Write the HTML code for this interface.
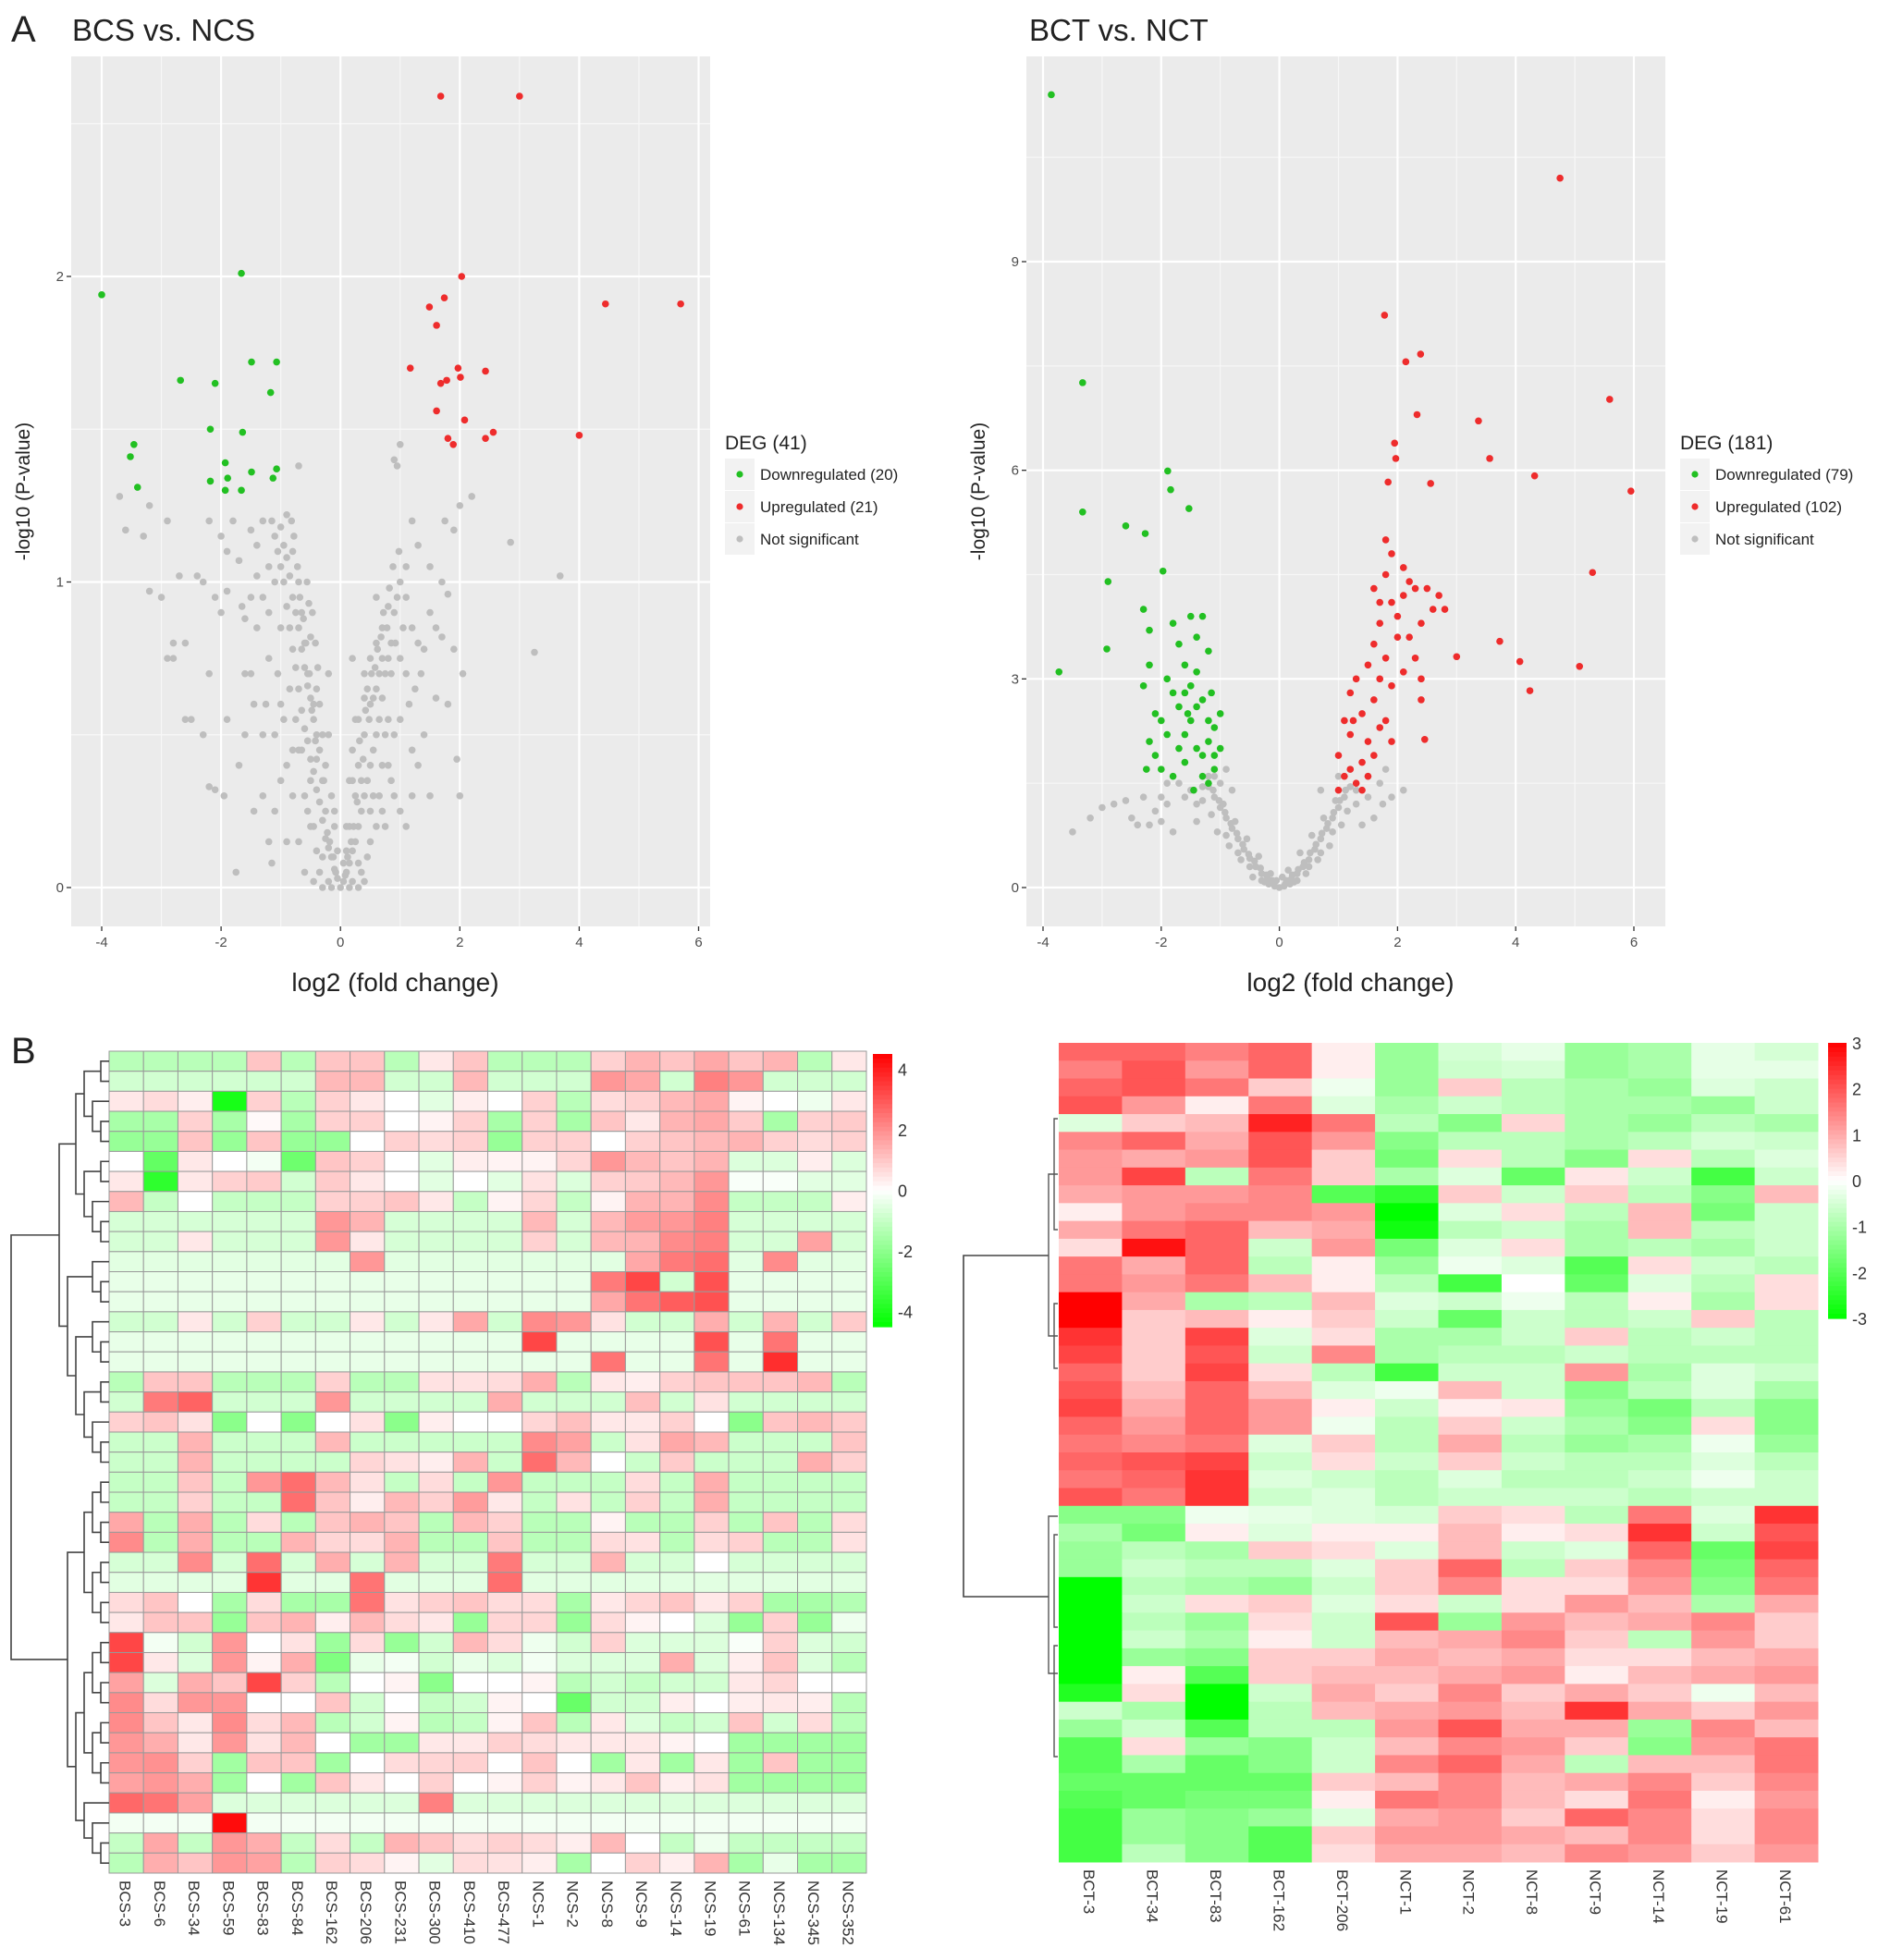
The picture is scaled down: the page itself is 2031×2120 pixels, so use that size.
<!DOCTYPE html>
<html><head><meta charset="utf-8">
<style>
html,body{margin:0;padding:0;background:#fff;}
svg{display:block;font-family:"Liberation Sans",sans-serif;}
</style></head>
<body>
<svg id="fig" width="2031" height="2120" viewBox="0 0 2031 2120" xmlns="http://www.w3.org/2000/svg">
<rect x="0" y="0" width="2031" height="2120" fill="#fff"/>
<text x="12" y="45" font-size="40" fill="#222">A</text>
<text x="78" y="44" font-size="33" fill="#222">BCS vs. NCS</text>
<text x="1113" y="44" font-size="33" fill="#222">BCT vs. NCT</text>
<text x="12" y="1150" font-size="40" fill="#222">B</text>
<g id="g1"></g>
<g id="g2"></g>
<g id="h1"></g>
<g id="h2"></g>
</svg>
<script>
// ---------- Volcano 1 data ----------
const v1Down = [[-4.0,1.94],[-1.66,2.01],[-2.68,1.66],[-2.1,1.65],[-1.49,1.72],[-1.07,1.72],[-1.17,1.62],[-2.18,1.50],[-1.64,1.49],[-3.46,1.45],[-3.52,1.41],[-3.4,1.31],[-1.93,1.39],[-1.89,1.34],[-2.18,1.33],[-1.93,1.30],[-1.49,1.36],[-1.07,1.37],[-1.13,1.34],[-1.66,1.30]];
const v1Up = [[1.68,2.59],[3.0,2.59],[2.03,2.0],[1.74,1.93],[1.49,1.9],[1.61,1.84],[1.17,1.70],[1.97,1.70],[2.43,1.69],[2.01,1.67],[1.78,1.66],[1.68,1.65],[1.61,1.56],[2.08,1.53],[1.80,1.47],[1.89,1.45],[2.43,1.47],[2.56,1.49],[4.0,1.48],[4.44,1.91],[5.70,1.91]];
const v1NS = [[0,0],[0.05,0.02],[-0.05,0.03],[0.1,0.05],[-0.1,0.06],[0.15,0.08],[-0.15,0.1],[0.2,0.12],[-0.2,0.13],[0.25,0.15],[-0.25,0.16],[0.3,0.2],[-0.3,0.22],[0.35,0.25],[-0.35,0.28],[0.4,0.3],[-0.4,0.32],[0.45,0.35],[-0.45,0.38],[0.5,0.4],[-0.5,0.42],[0.55,0.45],[-0.55,0.48],[0.6,0.5],[-0.6,0.52],[0.65,0.55],[-0.65,0.58],[0.7,0.62],[-0.7,0.65],[0.75,0.7],[-0.75,0.72],[0.8,0.75],[-0.8,0.78],[0.85,0.8],[-0.85,0.85],[0.9,0.9],[-0.9,0.92],[0.95,0.95],[-0.95,1.0],[-1.0,1.05],[-1.05,1.1],[-1.1,1.15],[-1.15,1.2],[0.3,0.08],[-0.3,0.1],[0.5,0.15],[-0.5,0.2],[0.7,0.25],[-0.6,0.3],[0.8,0.4],[-0.8,0.45],[1.0,0.55],[-1.0,0.6],[1.1,0.7],[-1.2,0.75],[1.3,0.8],[-1.4,0.85],[1.5,0.9],[-1.5,0.95],[1.6,0.62],[-1.6,0.7],[1.2,0.45],[-1.3,0.5],[0.9,0.3],[-1.0,0.35],[1.4,0.5],[-1.7,0.4],[1.8,0.6],[-1.9,0.55],[2.0,0.3],[-2.0,0.9],[-2.2,0.7],[-2.3,0.5],[-2.5,0.55],[-2.6,0.55],[-2.8,0.75],[-2.8,0.8],[-3.0,0.95],[-3.2,0.97],[-3.6,1.17],[-3.7,1.28],[-3.3,1.15],[-3.2,1.25],[-2.9,1.2],[-2.4,1.02],[-2.7,1.02],[-2.2,1.2],[-1.9,1.1],[-1.9,0.97],[-1.7,1.07],[-1.5,1.17],[-1.3,1.2],[-1.2,1.05],[-1.4,1.02],[-1.6,0.88],[-0.7,1.0],[-0.6,0.8],[-0.4,0.65],[0.4,0.62],[0.6,0.8],[0.8,0.92],[1.0,1.0],[1.1,1.05],[1.2,1.2],[1.3,1.12],[1.5,1.05],[1.7,1.0],[1.75,1.2],[1.9,1.17],[2.0,1.25],[2.2,1.28],[1.8,0.96],[1.7,0.82],[1.9,0.78],[2.05,0.7],[1.95,0.42],[2.85,1.13],[3.68,1.02],[3.25,0.77],[1.2,0.3],[1.0,0.25],[-1.1,0.25],[-0.9,0.15],[0.9,1.4],[1.0,1.45],[0.95,1.38],[-0.7,1.38],[-0.6,0.05],[-1.75,0.05],[-1.15,0.08],[0.2,0.02],[-0.2,0.02],[0.35,0.05],[-0.35,0.05],[0.1,0.2],[-0.1,0.25],[0.15,0.35],[-0.15,0.3],[0.2,0.45],[-0.25,0.4],[0.3,0.55],[-0.3,0.5],[0.4,0.7],[-0.45,0.6],[0.5,0.75],[-0.55,0.7],[0.6,0.95],[-0.65,0.9],[-0.8,1.1],[-0.9,1.22],[-1.0,1.18],[0.7,0.85],[0.75,0.5],[-0.7,0.45],[0.55,0.3],[-0.5,0.35],[0.25,0.3],[-0.2,0.5],
[-0.3,0.35],[-0.35,0.45],[-0.4,0.5],[-0.45,0.55],[-0.5,0.62],[-0.55,0.66],[-0.6,0.72],[-0.65,0.78],[-0.7,0.85],[-0.75,0.9],[-0.8,0.95],[-0.85,1.02],[-0.9,1.08],[-0.95,1.12],[-0.4,0.42],[-0.42,0.48],[-0.48,0.58],[-0.52,0.7],[-0.58,0.8],[-0.62,0.88],[-0.68,0.95],[-0.72,1.05],[-0.78,1.15],[-0.82,1.2],[-0.35,0.6],[-0.38,0.72],[-0.42,0.8],[-0.47,0.9],[-0.5,0.82],[-0.53,0.93],[-0.56,1.0],[-0.25,0.25],[-0.28,0.35],[-0.22,0.18],[-0.18,0.15],[-0.12,0.1],[-0.08,0.05],[0.08,0.04],[0.12,0.1],[0.18,0.15],[0.22,0.2],[0.28,0.28],[0.3,0.4],[0.32,0.48],[0.35,0.35],[0.38,0.42],[0.4,0.5],[0.42,0.58],[0.45,0.65],[0.48,0.55],[0.5,0.6],[0.52,0.7],[0.55,0.62],[0.58,0.72],[0.6,0.65],[0.62,0.78],[0.65,0.7],[0.68,0.82],[0.7,0.75],[0.72,0.9],[0.78,0.85],[0.82,0.98],[0.85,0.7],[0.88,1.05],[0.92,0.8],[0.98,1.1],[1.05,0.85],[1.1,0.95],[1.15,0.6],[1.25,0.65],[1.35,0.7],[0.65,0.3],[0.6,0.2],[0.5,0.25],[0.45,0.1],[0.7,0.4],[0.8,0.55],[0.9,0.5],[0.85,0.35],[0.75,0.2],[-0.7,0.15],[-0.8,0.3],[-0.9,0.4],[-0.95,0.55],[-1.05,0.7],[-1.1,0.5],[-1.2,0.9],[-1.3,0.95],[-1.25,0.6],[-1.45,0.6],[-1.5,0.7],[-1.6,0.5],[-1.8,1.2],[-2.0,1.15],[-1.4,1.12],[-1.1,1.0],[-1.0,0.85],[-0.85,0.65],[-0.75,0.55],[-0.65,0.45],[-0.55,0.25],[-0.45,0.2],[-0.4,0.12],[0.15,0.0],[-0.15,0.0],[0.3,0.0],[-0.3,0.0],[0.4,0.02],[-0.45,0.02],[0.25,0.55],[0.2,0.35],[0.15,0.2],[0.1,0.12],[0.05,0.08],[-0.05,0.12],[-0.1,0.2],[1.0,0.75],[1.2,0.85],[1.4,0.78],[1.6,0.85],[1.3,0.4],[1.5,0.3],[1.1,0.2],[-1.3,0.3],[-1.45,0.25],[-1.2,0.15],[-1.65,0.92],[-2.3,1.0],[-2.1,0.95],[-1.95,0.3],[-2.1,0.32],[-2.2,0.33],[-2.6,0.8],[-2.9,0.75],[-0.2,0.7],[0.2,0.75]];
const v1XTicks = [-4,-2,0,2,4,6];
const v1YTicks = [0,1,2];
const v1Legend = ["Downregulated (20)","Upregulated (21)","Not significant"];

// ---------- Volcano 2 data ----------
const v2Down = [[-3.86,11.4],[-3.33,7.26],[-3.33,5.4],[-2.6,5.2],[-2.27,5.09],[-1.89,5.99],[-1.84,5.72],[-1.53,5.45],[-1.97,4.55],[-2.9,4.4],[-3.73,3.1],[-2.92,3.43],[-2.3,4.0],[-2.2,3.7],[-2.2,3.2],[-2.3,2.9],[-2.1,2.5],[-2.2,2.1],[-2.1,1.9],[-2.0,2.4],[-1.9,3.0],[-1.8,3.8],[-1.8,2.8],[-1.7,3.5],[-1.7,2.6],[-1.6,3.2],[-1.6,2.2],[-1.6,1.8],[-1.5,3.9],[-1.5,2.9],[-1.5,2.4],[-1.4,3.6],[-1.4,3.1],[-1.4,2.0],[-1.3,3.9],[-1.3,2.7],[-1.3,1.6],[-1.2,3.4],[-1.2,2.4],[-1.2,2.1],[-1.2,1.5],[-1.1,2.3],[-1.1,1.9],[-1.1,1.7],[-1.0,2.0],[-1.0,2.5],[-1.9,2.2],[-2.0,1.7],[-1.7,2.0],[-1.6,2.8],[-1.4,2.6],[-1.3,1.9],[-1.8,1.6],[-2.25,1.7],[-1.45,1.4],[-1.15,2.8],[-1.55,2.5]];
const v2Up = [[4.75,10.2],[1.78,8.23],[2.39,7.67],[2.14,7.56],[5.59,7.02],[3.37,6.71],[2.33,6.8],[5.95,5.70],[3.56,6.17],[4.32,5.92],[1.95,6.39],[1.97,6.17],[1.84,5.83],[2.56,5.81],[5.3,4.53],[3.73,3.54],[4.07,3.25],[3.0,3.32],[5.08,3.18],[4.24,2.83],[2.46,2.13],[1.0,1.4],[1.1,1.6],[1.0,1.9],[1.2,2.2],[1.1,2.4],[1.2,2.8],[1.3,3.0],[1.3,1.5],[1.4,1.8],[1.4,2.5],[1.5,3.2],[1.5,1.6],[1.5,2.1],[1.6,2.7],[1.6,3.5],[1.6,1.9],[1.7,2.3],[1.7,3.0],[1.7,3.8],[1.7,4.1],[1.8,2.4],[1.8,3.3],[1.8,4.5],[1.8,5.0],[1.9,2.9],[1.9,4.1],[1.9,4.8],[2.0,3.6],[2.0,3.9],[2.1,4.2],[2.1,3.1],[2.2,4.4],[2.2,3.6],[2.3,4.3],[2.4,3.8],[2.4,3.0],[2.4,2.7],[2.5,4.3],[2.6,4.0],[2.7,4.2],[2.8,4.0],[1.9,2.1],[1.4,1.4],[1.2,1.7],[2.1,4.6],[2.3,3.3],[1.6,4.3],[1.25,2.4]];
const v2NS = [[0,0],[0.1,0.05],[-0.1,0.05],[0.2,0.12],[-0.2,0.12],[0.3,0.2],[-0.3,0.2],[0.4,0.3],[-0.4,0.3],[0.5,0.4],[-0.5,0.42],[0.6,0.55],[-0.6,0.55],[0.7,0.7],[-0.7,0.7],[0.8,0.85],[-0.8,0.85],[0.9,1.0],[-0.9,1.0],[1.0,1.15],[-1.0,1.15],[1.1,1.3],[-1.1,1.3],[1.2,1.45],[-1.2,1.45],[0.15,0.25],[-0.15,0.2],[0.35,0.5],[-0.35,0.45],[0.55,0.75],[-0.55,0.7],[0.75,1.0],[-0.75,0.95],[0.95,1.25],[-0.95,1.2],[1.15,1.1],[-1.15,1.05],[1.3,1.2],[-1.3,1.25],[1.5,1.6],[-1.5,1.4],[1.7,1.5],[-1.7,1.5],[1.9,1.3],[-1.9,1.2],[-2.1,1.1],[-2.3,1.3],[-2.5,1.0],[-2.8,1.2],[-3.2,1.0],[-3.5,0.8],[-2.2,0.9],[-1.8,0.8],[2.1,1.4],[1.6,1.0],[1.4,0.9],[-1.4,0.95],[0.45,0.2],[-0.45,0.15],[0.25,0.08],[-0.25,0.08],[0.65,0.4],[-0.65,0.4],[0.85,0.6],[-0.85,0.6],[1.05,0.9],[-1.05,0.8],[0.05,0.15],[-0.05,0.1],[-0.8,1.4],[-1.1,1.6],[1.2,1.7],[1.0,1.6],[-0.9,1.7],[0.7,1.4],
[0.12,0.1],[-0.12,0.1],[0.22,0.18],[-0.22,0.18],[0.32,0.26],[-0.32,0.28],[0.42,0.36],[-0.42,0.38],[0.52,0.5],[-0.52,0.48],[0.62,0.62],[-0.62,0.62],[0.72,0.78],[-0.72,0.78],[0.82,0.92],[-0.82,0.92],[0.92,1.08],[-0.92,1.08],[1.02,1.25],[-1.02,1.25],[1.12,1.4],[-1.12,1.4],[0.3,0.1],[-0.3,0.1],[0.5,0.3],[-0.5,0.3],[0.7,0.5],[-0.7,0.5],[0.9,0.8],[-0.9,0.75],[1.3,1.4],[-1.3,1.45],[-1.6,1.3],[-1.9,1.5],[-2.0,1.3],[-1.4,1.2],[1.5,1.3],[1.8,1.7],[-1.2,1.6],[-1.0,1.5],[0.08,0.02],[-0.08,0.02],[0.18,0.05],[-0.18,0.05],[-2.6,1.25],[-3.0,1.15],[-2.4,0.9],[-2.0,0.95],[1.75,1.2]];
const v2XTicks = [-4,-2,0,2,4,6];
const v2YTicks = [0,3,6,9];
const v2Legend = ["Downregulated (79)","Upregulated (102)","Not significant"];

// ---------- Heatmap 1 data ----------
const hm1Cols = ["BCS-3","BCS-6","BCS-34","BCS-59","BCS-83","BCS-84","BCS-162","BCS-206","BCS-231","BCS-300","BCS-410","BCS-477","NCS-1","NCS-2","NCS-8","NCS-9","NCS-14","NCS-19","NCS-61","NCS-134","NCS-345","NCS-352"];
const hm1Vals = [
[-1.2,-1.2,-1.2,-1.2,1,-1.2,1,1,-1.2,0.4,1,-1.2,-1.2,-1.2,0.8,1.3,1,1.5,1,1.3,-1.2,0.4],
[-0.8,-0.8,-0.8,-0.8,-0.8,-0.8,1.2,1.2,-0.8,-0.8,1.2,-0.8,-0.8,-0.8,1.8,1.5,-0.8,2.2,1.8,-0.8,-0.8,-0.8],
[0.4,0.6,0.3,-4,0.8,-1.2,0.8,0.4,0,-0.5,0.3,0,0.8,-1.2,0.6,0.8,1.2,1.5,0.2,0,-0.3,0.4],
[-1.5,-1.5,0.8,-1.5,0.1,-1.5,0.8,0.8,0,0.2,0.8,-1.5,0.8,-1.5,1.0,0.4,1.3,1.5,0.9,-1.5,0.8,0.9],
[-1.8,-1.8,1.0,-1.8,1.0,-1.8,-1.8,0,0.8,0.6,0.8,-1.8,0.8,0.8,0,0.8,1.0,1.2,1.3,0.8,0.6,0.8],
[0,-2.7,0.4,0,-0.2,-2.5,1.0,0.8,0,-0.5,0.3,0.2,0.2,0.7,1.8,1.2,1.0,1.3,-0.6,-0.6,0.3,-0.6],
[0.4,-3.6,0.4,0.8,0.9,-0.8,0.9,0.4,0,-0.5,0,-0.5,0.5,-0.6,0.8,0.9,1.2,1.8,-0.1,-0.1,-0.5,-0.5],
[1.2,-1,0,-1,-1,-1,0.8,0.8,1.0,0.4,-1,0.2,0.7,-1,0.2,1.3,1.3,2,-1,-1,-1,0.3],
[-0.7,-0.7,-0.7,-0.7,-0.7,-0.7,1.8,1.3,-0.7,-0.7,-0.7,-0.7,1.2,-0.7,1.2,1.7,1.8,2.2,-0.7,-0.7,-0.7,-0.7],
[-0.7,-0.7,0.4,-0.7,-0.7,-0.7,1.8,0.4,-0.7,-0.7,-0.7,-0.7,0.8,-0.7,1.2,1.3,2.0,2.2,-0.7,-0.7,1.6,-0.7],
[-0.5,-0.5,-0.5,-0.5,-0.5,-0.5,-0.5,1.8,-0.5,-0.5,-0.5,-0.5,-0.5,-0.5,-0.5,1.5,2.3,2.5,-0.5,2.0,-0.5,-0.5],
[-0.4,-0.4,-0.4,-0.4,-0.4,-0.4,-0.4,-0.4,-0.4,-0.4,-0.4,-0.4,-0.4,-0.4,2.3,3.2,-0.8,3.0,-0.4,-0.4,-0.4,-0.4],
[-0.4,-0.4,-0.4,-0.4,-0.4,-0.4,-0.4,-0.4,-0.4,-0.4,-0.4,-0.4,-0.4,-0.4,1.5,2.4,2.8,3.0,-0.4,-0.4,-0.4,-0.4],
[-0.8,-0.8,0.4,-0.8,0.8,-0.8,-0.8,0.4,-0.8,0.4,1.5,-0.8,2.0,1.8,0.5,-0.8,-0.8,1.4,-0.8,1.3,-0.8,0.9],
[-0.4,-0.4,-0.4,-0.4,-0.4,-0.4,-0.4,-0.4,-0.4,-0.4,-0.4,-0.4,3.2,-0.4,-0.4,-0.4,-0.4,3.0,-0.4,2.4,-0.4,-0.4],
[-0.4,-0.4,-0.4,-0.4,-0.4,-0.4,-0.4,-0.4,-0.4,-0.4,-0.4,-0.4,-0.4,-0.4,2.4,-0.4,-0.4,2.4,-0.4,3.6,-0.4,-0.4],
[-1.2,1.0,1.0,-1.2,-1.2,-1.2,0.8,-1.2,-1.2,0.5,0.5,0.6,1.4,-1.2,0.4,0.3,0.8,1.0,1.0,1.0,1.2,-1.2],
[-0.8,2.3,2.7,-0.8,-0.8,-0.8,1.8,-0.8,-0.8,-0.8,-0.8,1.4,-0.8,-0.8,-0.8,1.1,-0.8,0.5,-0.8,-0.8,-0.8,-0.8],
[0.8,1.0,0.5,-2,0,-2,0,0.5,-2,0.3,0,0,0.7,1.1,0.4,0.4,0.8,0,-2,1.0,1.2,0.9],
[-0.9,-0.9,1.3,-0.9,-0.9,-0.9,1.2,-0.9,-0.9,-0.9,-0.9,-0.9,2.0,1.6,-0.9,0.5,1.5,1.2,-0.9,-0.9,-0.9,1.0],
[-0.9,-0.9,1.3,-0.9,-0.9,-0.9,-0.9,0.7,0.5,0.3,1.3,-0.9,2.5,1.2,0,-0.9,0.9,-0.9,-0.9,-0.9,1.4,0.8],
[-1,-1,1.0,-1,1.8,2.5,1.2,0.5,-1,0.6,-1,1.8,-1,-1,-1,0.6,-1,1.4,-1,-1,-1,-1],
[-1,-1,0.8,-1,-1,2.5,1.0,0.3,1.2,0.8,1.7,0.4,-1,0.5,-1,0.8,-1,1.4,-1,-1,-1,-1],
[1.5,-1.2,1.4,-1.2,0.6,-1.2,1.0,1.3,1.0,-1.2,1.2,0.8,-1.2,-1.2,0.2,-1.2,-1.2,0.8,-1.2,1.0,-1.2,0.6],
[2,-1.2,1.4,-1.2,-1.2,1.3,0.7,0.6,1.3,-1.2,-1.2,1.0,-1.2,-1.2,0.6,0.5,-1.2,0.6,0.8,-1.2,-1.2,0.5],
[-0.7,-0.7,2.0,-0.7,2.5,-0.7,1.4,-0.7,1.3,-0.7,-0.7,2.3,-0.7,-0.7,1.3,-0.7,-0.7,0,-0.7,-0.7,-0.7,-0.7],
[-0.5,-0.5,-0.5,-0.5,3.5,-0.5,-0.5,2.4,-0.5,-0.5,-0.5,2.5,-0.5,-0.5,-0.5,-0.5,-0.5,-0.5,-0.5,-0.5,-0.5,-0.5],
[0.6,1.0,0,-1.5,0.6,-1.5,-1.5,2.4,0.5,0.8,1.0,0.6,0.6,-1.5,0.4,0.7,1.0,0.4,0.8,-1.5,-1.5,-1.3],
[0.4,1.0,1.0,-1.8,1.0,1.3,0.3,1.2,0.6,0.4,-1.8,0.7,0.7,-1.8,0.6,0.2,0,-0.6,-1.8,0.8,-1.8,-0.3],
[3.2,-0.2,-0.8,1.8,0,0.5,-1.7,0.6,-1.8,-0.8,1.2,0.6,-0.3,-0.8,0.8,-0.6,-0.6,-0.6,-0.1,0.8,-0.6,-0.8],
[3.2,0.4,-0.6,1.8,0.2,1.4,-2.2,-0.4,-0.2,-0.8,-0.4,-0.6,-0.2,-0.6,-0.6,-0.6,1.4,-0.6,0.3,1.0,-0.6,-1.2],
[1.6,-0.6,1.4,1.0,3.2,0.8,-1.2,0,0.2,-2,0,0,0.2,-1.2,-0.8,-1.0,-0.8,-0.8,0.4,0.7,0,0],
[2.0,0.6,1.8,1.8,0,0,1.0,-0.8,0,-1.0,-0.8,0.2,0,-2.6,-0.8,-0.8,0.3,0,0.3,0.4,0.3,-1.2],
[2.0,1.0,0.4,2.0,0.6,1.2,-1.2,-0.8,0.2,-1.2,-1.0,0.2,1.0,-1.2,0.4,-0.6,-1.0,-0.8,1.0,-0.8,0.6,-1.2],
[1.8,1.4,0.4,1.8,0.5,1.2,0,-1.6,-1.6,0.4,0.4,0.8,0.6,0.4,0.4,0.4,0.2,0,-1.6,-1.6,-1.6,-1.6],
[1.8,1.9,0.8,-1.6,1.0,1.0,-1.6,0,0.6,0.7,0.8,0,1.0,0,-1.6,0.4,-1.6,0.4,-1.6,1.0,-1.6,-1.6],
[1.6,1.8,1.4,-1.6,0,-1.6,1.0,0.4,0,0.8,0,0.2,0.8,0.2,0.4,1.0,0.3,0.5,-1.6,-1.6,-1.6,-1.6],
[2.6,2.4,1.6,-0.6,-0.6,-0.6,-0.6,-0.6,-0.6,2.2,-0.6,-0.6,-0.6,-0.6,-0.6,-0.6,-0.6,-0.6,-0.6,-0.6,-0.6,-0.6],
[-0.2,-0.2,-0.2,4.2,-0.2,-0.2,-0.2,-0.2,-0.2,-0.2,-0.2,-0.2,-0.2,-0.2,-0.2,-0.2,-0.2,-0.2,-0.2,-0.2,-0.2,-0.2],
[-1,1.5,-1,1.8,1.4,-1,0.6,-1,1.3,1.0,0.6,0.8,0.6,0.3,1.2,0,-1,-0.3,-1,-1,-1,-1],
[-1.2,1.4,1.0,1.8,1.6,-1.2,0.8,0.6,0.2,-0.5,0.6,0.5,0.3,-1.5,0,0.8,0.3,1.3,-1.5,-0.4,-1.5,-1.5]
];
const hm1Ticks = [4,2,0,-2,-4];
const hm1Tree = [[[[[0,1],[2,[3,4]]],[[5,6],[7,[8,9]]]],[[10,[11,12]],[[13,[14,15]],[[16,17],[18,[19,20]]]]]],[[[[21,22],[23,24]],[[25,26],[27,28]]],[[[[29,30],[31,32]],[[33,34],[35,36]]],[37,[38,[39,40]]]]]];

// ---------- Heatmap 2 data ----------
const hm2Cols = ["BCT-3","BCT-34","BCT-83","BCT-162","BCT-206","NCT-1","NCT-2","NCT-8","NCT-9","NCT-14","NCT-19","NCT-61"];
const hm2Vals = [
[1.8,1.8,1.5,1.8,0.2,-1.2,-0.5,-0.3,-1.2,-1.0,-0.3,-0.5],
[1.5,2.0,1.2,1.8,0.2,-1.2,-0.6,-0.5,-1.2,-1.0,-0.3,-0.3],
[1.8,2.0,1.6,0.6,-0.2,-1.2,0.6,-0.8,-1.0,-1.2,-0.4,-0.6],
[2.0,1.2,0.2,1.6,-0.4,-1.0,-0.6,-0.8,-1.0,-1.0,-1.2,-0.6],
[-0.4,0.6,0.8,2.6,1.6,-0.8,-1.4,0.5,-1.0,-1.2,-0.8,-1.0],
[1.4,1.8,1.0,2.0,1.2,-1.4,-0.8,-0.8,-1.0,-0.8,-0.5,-0.6],
[1.2,1.0,1.2,2.0,0.6,-1.6,0.4,-0.8,-1.4,0.4,-0.8,-0.4],
[1.2,2.2,-0.8,1.6,0.6,-1.0,-0.4,-1.8,0.3,-0.6,-2.2,-0.6],
[1.0,1.2,1.2,1.4,-2.0,-2.4,0.6,-0.6,0.6,-0.8,-1.4,0.8],
[0.2,1.2,1.4,1.4,1.2,-3.0,-0.4,0.4,-0.8,0.8,-1.6,-0.6],
[1.0,1.6,1.8,0.8,1.0,-2.8,-0.8,-0.6,-1.0,0.8,-0.8,-0.6],
[0.4,2.8,1.8,-0.6,1.2,-1.6,-0.4,0.4,-1.0,-0.8,-1.0,-0.6],
[1.6,1.0,1.8,-0.8,0.2,-1.2,-0.2,-0.4,-2.0,0.4,-0.6,-0.8],
[1.6,1.2,1.6,0.8,0.2,-0.8,-2.2,0,-1.8,-0.4,-0.8,0.4],
[3.0,1.0,-1.0,-0.8,0.8,-0.4,-0.6,-0.2,-0.8,0.2,-1.0,0.4],
[3.0,0.6,0.8,0.2,0.6,-0.6,-1.8,-0.6,-0.8,-0.6,0.6,-0.8],
[2.4,0.6,2.2,-0.4,0.4,-1.0,-1.0,-0.6,0.6,-0.8,-0.6,-0.8],
[2.2,0.6,2.0,-0.6,1.4,-1.0,-0.8,-0.8,-0.6,-0.8,-0.8,-0.8],
[1.8,0.6,2.2,0.4,-0.8,-2.2,-0.6,-0.6,1.2,-1.0,-0.4,-0.6],
[2.0,0.8,1.8,0.8,-0.4,-0.2,0.8,-0.6,-1.4,-0.8,-0.4,-1.0],
[2.2,1.0,1.8,1.2,0.2,-0.6,0.2,0.3,-1.2,-1.6,-0.8,-1.4],
[1.8,1.2,1.8,1.2,-0.2,-0.8,0.6,-0.6,-1.0,-1.4,0.4,-1.4],
[1.6,1.4,1.6,-0.4,0.6,-0.8,1.0,-0.8,-1.2,-1.0,-0.2,-1.2],
[1.8,2.0,2.2,-0.6,0.4,-0.6,0.6,-0.6,-0.8,-0.8,-0.4,-0.8],
[1.6,1.8,2.4,-0.4,-0.6,-0.8,-0.4,-0.8,-0.8,-0.6,-0.2,-0.6],
[2.0,1.6,2.4,-0.6,-0.4,-0.8,-0.6,-0.6,-0.6,-0.8,-0.6,-0.6],
[-1.4,-1.4,-0.2,-0.3,-0.4,-0.5,0.6,0.4,-0.8,1.6,-0.4,2.4],
[-1.0,-1.6,0.2,-0.4,0.2,0.2,0.8,0.2,0.4,2.4,-0.6,2.0],
[-1.2,-0.8,-1.0,0.6,0.4,-0.4,0.8,-0.6,-0.4,1.8,-1.8,2.2],
[-1.2,-0.6,-0.8,-0.8,-0.4,0.6,1.8,-0.8,0.6,1.4,-1.6,1.8],
[-3.0,-0.8,-1.0,-1.2,-0.6,0.6,1.4,0.4,0.4,1.2,-1.4,1.6],
[-3.0,-0.6,0.4,0.6,-0.4,0.4,-0.6,0.4,1.2,0.8,-1.0,1.0],
[-3.0,-0.8,-1.2,0.4,-0.6,2.0,-1.2,1.2,0.8,1.0,1.4,0.6],
[-3.0,-0.6,-1.0,0.2,-0.6,0.8,1.0,1.4,0.6,-0.8,1.2,0.6],
[-3.0,-1.2,-1.4,0.6,0.6,1.0,0.8,1.0,0.4,0.4,0.8,1.0],
[-3.0,0.2,-2.0,0.6,0.8,0.8,1.0,1.2,0.2,0.8,1.0,1.2],
[-2.6,0.4,-3.0,-0.6,1.0,0.6,1.4,0.6,1.0,0.6,-0.2,0.8],
[-0.6,-1.0,-3.0,-0.8,0.8,1.0,1.2,0.8,2.4,1.0,0.6,1.2],
[-1.2,-0.6,-2.0,-0.8,-0.8,1.2,2.0,1.0,1.0,-1.2,1.4,0.8],
[-2.0,0.4,-1.2,-1.4,-0.6,0.8,1.4,1.2,0.6,-1.4,1.2,1.6],
[-2.0,-1.0,-1.8,-1.4,-0.6,1.4,1.8,1.0,-0.8,0.8,0.8,1.6],
[-1.8,-1.8,-1.8,-1.8,0.6,0.8,1.4,0.8,1.0,1.4,0.6,1.4],
[-2.0,-1.8,-1.6,-1.6,0.2,1.6,1.4,0.8,0.4,1.6,0.2,1.2],
[-2.2,-1.2,-1.4,-1.2,-0.4,1.0,1.2,0.6,1.8,1.4,0.4,1.4],
[-2.2,-1.2,-1.4,-2.0,0.6,1.2,1.2,1.0,0.8,1.4,0.4,1.4],
[-2.2,-0.8,-1.4,-2.0,0.4,1.0,1.0,0.8,1.4,1.2,0.6,1.2]
];
const hm2Ticks = [3,2,1,0,-1,-2,-3];

// ---------- helpers ----------
const NS = "http://www.w3.org/2000/svg";
function mk(parent, tag, attrs) {
  const el = document.createElementNS(NS, tag);
  for (const k in attrs) el.setAttribute(k, attrs[k]);
  parent.appendChild(el);
  return el;
}
function txt(parent, x, y, s, size, fill, anchor, extra) {
  const el = mk(parent, "text", Object.assign({x: x, y: y, "font-size": size, fill: fill, "text-anchor": anchor || "start"}, extra || {}));
  el.textContent = s;
  return el;
}

// ---------- volcano ----------
function volcano(g, cfg) {
  const sx = v => cfg.x0 + (v - cfg.xmin) * (cfg.x1 - cfg.x0) / (cfg.xmax - cfg.xmin);
  const sy = v => cfg.y0 - (v - cfg.ymin) * (cfg.y0 - cfg.y1) / (cfg.ymax - cfg.ymin);
  const bg = mk(g, "rect", {x: cfg.px0, y: cfg.py0, width: cfg.px1 - cfg.px0, height: cfg.py1 - cfg.py0, fill: "#ebebeb"});
  
  
  for (let i = 0; i < cfg.xt.length - 1; i++) {
    const m = (cfg.xt[i] + cfg.xt[i + 1]) / 2;
    const l = mk(g, "line", {x1: sx(m), x2: sx(m), y1: cfg.py0, y2: cfg.py1, stroke: "#f7f7f7", "stroke-width": 1.2});
    
    
  }
  for (let i = 0; i < cfg.yt.length; i++) {
    const m = cfg.yt[i] + (cfg.yt[1] - cfg.yt[0]) / 2;
    if (sy(m) < cfg.py0) continue;
    const l = mk(g, "line", {x1: cfg.px0, x2: cfg.px1, y1: sy(m), y2: sy(m), stroke: "#f7f7f7", "stroke-width": 1.2});
    
    
  }
  cfg.xt.forEach(t => {
    const l = mk(g, "line", {x1: sx(t), x2: sx(t), y1: cfg.py0, y2: cfg.py1, stroke: "#fff", "stroke-width": 2.2});
    
    
    const tk = mk(g, "line", {x1: sx(t), x2: sx(t), y1: cfg.py1, y2: cfg.py1 + 5, stroke: "#333", "stroke-width": 1.3});
    
    
    const tl = txt(g, sx(t), cfg.py1 + 22, String(t), 15, "#4d4d4d", "middle");
    
    
  });
  cfg.yt.forEach(t => {
    const l = mk(g, "line", {x1: cfg.px0, x2: cfg.px1, y1: sy(t), y2: sy(t), stroke: "#fff", "stroke-width": 2.2});
    
    
    const tk = mk(g, "line", {x1: cfg.px0 - 5, x2: cfg.px0, y1: sy(t), y2: sy(t), stroke: "#333", "stroke-width": 1.3});
    
    
    const tl = txt(g, cfg.px0 - 8, sy(t) + 5, String(t), 15, "#4d4d4d", "end");
    
    
  });
  const series = [[cfg.ns, "#bebebe", "point-not-significant"], [cfg.down, "#22c022", "point-downregulated"], [cfg.up, "#ee2c2c", "point-upregulated"]];
  series.forEach(s => {
    s[0].forEach(p => {
      const c = mk(g, "circle", {cx: sx(p[0]), cy: sy(p[1]), r: 3.8, fill: s[1]});
      
      
    });
  });
  const xt = txt(g, (cfg.px0 + cfg.px1) / 2 + 5, cfg.py1 + 70, "log2 (fold change)", 28, "#222", "middle");
  
  
  const yx = cfg.px0 - 45, yy = (cfg.py0 + cfg.py1) / 2;
  const yt = txt(g, yx, yy, "-log10 (P-value)", 21, "#222", "middle", {transform: "rotate(-90 " + yx + " " + yy + ")"});
  
  
  const lx = cfg.px1 + 14, ly = 486;
  const lt = txt(g, lx + 2, ly, cfg.legTitle, 21, "#222", "start");
  
  
  const cols = ["#22c022", "#ee2c2c", "#bebebe"];
  cfg.leg.forEach((s, i) => {
    const yc = 513 + i * 35;
    const kb = mk(g, "rect", {x: lx + 2, y: yc - 17, width: 32, height: 34, fill: "#f2f2f2"});
    
    
    const kc = mk(g, "circle", {cx: lx + 18, cy: yc, r: 3.6, fill: cols[i]});
    
    
    const kt = txt(g, lx + 40, yc + 6, s, 17, "#222", "start");
    
    
  });
}

volcano(document.getElementById("g1"), {
  px0: 77, px1: 768, py0: 61, py1: 1002,
  xmin: -4, xmax: 6, x0: 110, x1: 755.5, ymin: 0, ymax: 2, y0: 960, y1: 299,
  xt: v1XTicks, yt: v1YTicks, ns: v1NS, down: v1Down, up: v1Up, leg: v1Legend, legTitle: "DEG (41)"
});
volcano(document.getElementById("g2"), {
  px0: 1110, px1: 1801, py0: 61, py1: 1002,
  xmin: -4, xmax: 6, x0: 1128, x1: 1767, ymin: 0, ymax: 9, y0: 960, y1: 283,
  xt: v2XTicks, yt: v2YTicks, ns: v2NS, down: v2Down, up: v2Up, leg: v2Legend, legTitle: "DEG (181)"
});

// ---------- heatmaps ----------
function color(v, lim) {
  const t = Math.min(1, Math.abs(v) / lim);
  const o = Math.round(255 * (1 - t));
  return v >= 0 ? "rgb(255," + o + "," + o + ")" : "rgb(" + o + ",255," + o + ")";
}
function heat(g, cfg) {
  const nr = cfg.vals.length, nc = cfg.cols.length;
  const cw = (cfg.x1 - cfg.x0) / nc, rh = (cfg.y1 - cfg.y0) / nr;
  cfg.vals.forEach((row, r) => {
    row.forEach((v, c) => {
      const rc = mk(g, "rect", {x: cfg.x0 + c * cw, y: cfg.y0 + r * rh, width: cw + (cfg.grid ? 0 : 0.5), height: rh + (cfg.grid ? 0 : 0.5), fill: color(v, cfg.lim), stroke: cfg.grid ? "#9a9a9a" : "none", "stroke-width": 1});
      
      
    });
  });
  cfg.cols.forEach((s, c) => {
    const x = cfg.x0 + (c + 0.5) * cw - 7, y = cfg.y1 + 8;
    const t = txt(g, x, y, s, cfg.fs, "#333", "start", {transform: "rotate(90 " + x + " " + y + ")"});
    
    
  });
  const n = 60;
  for (let i = 0; i < n; i++) {
    const v = cfg.lim - (i + 0.5) * 2 * cfg.lim / n;
    const cb = mk(g, "rect", {x: cfg.cbx, y: cfg.cby0 + i * (cfg.cby1 - cfg.cby0) / n, width: cfg.cbw, height: (cfg.cby1 - cfg.cby0) / n + 0.6, fill: color(v, cfg.lim)});
    
    
  }
  cfg.ticks.forEach(t => {
    const y = cfg.cby0 + (cfg.cbmax - t) / (2 * cfg.cbmax) * (cfg.cby1 - cfg.cby0);
    const tl = txt(g, cfg.cbx + cfg.cbw + 6, y + 7, String(t), 18, "#333", "start");
    
    
  });
}
heat(document.getElementById("h1"), {vals: hm1Vals, cols: hm1Cols, x0: 118, x1: 937, y0: 1137, y1: 2026, lim: 4.4, grid: true, fs: 17,
  cbx: 944, cbw: 21, cby0: 1140, cby1: 1435, cbmax: 4.5, ticks: hm1Ticks});
heat(document.getElementById("h2"), {vals: hm2Vals, cols: hm2Cols, x0: 1145, x1: 1966, y0: 1128, y1: 2014, lim: 3.0, grid: false, fs: 17,
  cbx: 1977, cbw: 20, cby0: 1128, cby1: 1426, cbmax: 3.0, ticks: hm2Ticks});

(function () {
  const g = document.getElementById("h1");
  const rh = (2026 - 1137) / 41;
  const yOf = i => 1137 + (i + 0.5) * rh;
  function depth(n) { return Array.isArray(n) ? 1 + Math.max(depth(n[0]), depth(n[1])) : 0; }
  function draw(n, isRoot) {
    if (!Array.isArray(n)) return {y: yOf(n), x: 118};
    const a = draw(n[0], false), b = draw(n[1], false);
    const x = isRoot ? 12 : 118 - depth(n) * 9;
    const p = mk(g, "path", {d: "M" + a.x + " " + a.y + "H" + x + "V" + b.y + "H" + b.x, fill: "none", stroke: "#444", "stroke-width": 1.6});
    
    
    return {y: (a.y + b.y) / 2, x: x};
  }
  draw(hm1Tree, true);
})();

(function () {
  const g = document.getElementById("h2");
  const p = mk(g, "path", {d: "M1134 1358H1042V1727H1134", fill: "none", stroke: "#444", "stroke-width": 1.6});
  
  
  const p2 = mk(g, "path", {d: "M1144 1270H1134V1445H1144 M1144 1640H1134V1810H1144 M1144 1210H1140V1330H1144 M1144 1410H1140V1480H1144 M1144 1660H1140V1760H1144 M1144 1780H1140V1900H1144", fill: "none", stroke: "#555", "stroke-width": 1.4});
  
  
})();
</script>
</body></html>
